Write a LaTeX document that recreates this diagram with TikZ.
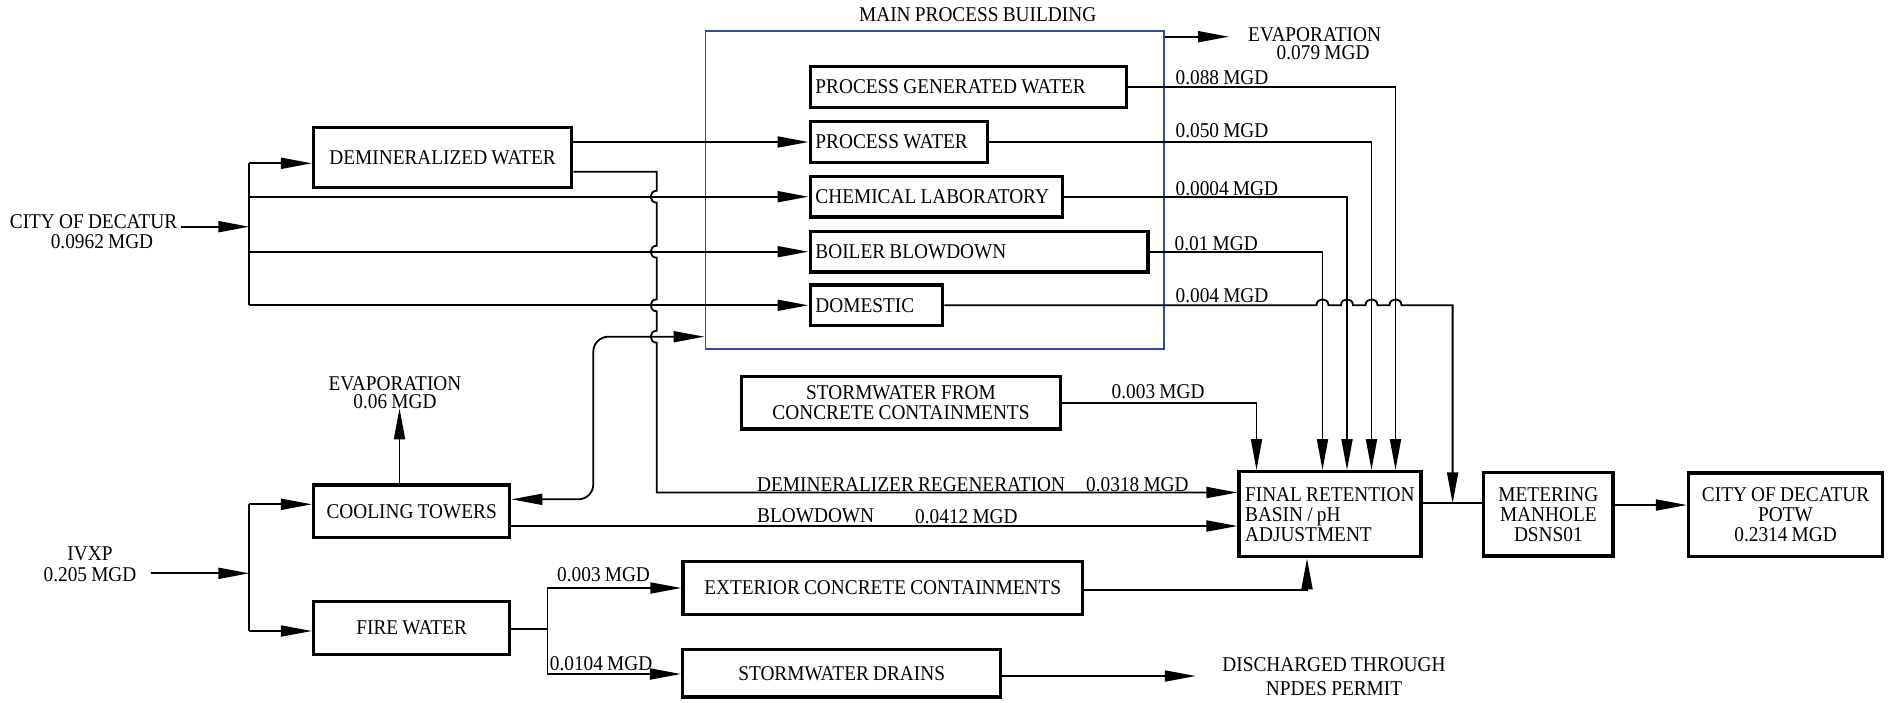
\documentclass[tikz,border=0pt]{standalone}
\usepackage{fontspec}
\setmainfont{Liberation Serif}[FakeStretch=0.92,WordSpace=0.87]
\usetikzlibrary{arrows.meta}
\definecolor{bldgblue}{RGB}{45,75,170}
\begin{document}
\begin{tikzpicture}[x=1pt,y=-1pt,
  every node/.style={font=\fontsize{21}{20}\selectfont, inner sep=0pt},
  box/.style={draw, line width=3.3pt, inner sep=0pt, align=center},
  pbox/.style={draw, line width=3.3pt, anchor=west, inner xsep=5.3pt, inner ysep=0pt, minimum height=40.6pt, align=flush left},
  conn/.style={line width=1.8pt},
  arr/.style={conn, -{Triangle[length=31pt,width=11pt]}},
  lbl/.style={anchor=west}]
\useasboundingbox (0,0) rectangle (1889,702);

% ---------- boxes ----------
\node[box, minimum width=258.1pt, minimum height=60.4pt] (demin) at (442.65,157.5) {DEMINERALIZED WATER};
\node[box, minimum width=196.1pt, minimum height=52.7pt] (cool) at (411.65,511.35) {COOLING TOWERS};
\node[box, minimum width=196.1pt, minimum height=52.6pt] (fire) at (411.65,628) {FIRE WATER};
\node[draw=bldgblue, line width=1.8pt, minimum width=458.9pt, minimum height=318.6pt] (bldg) at (934.85,190) {};
\node (title) at (977.7,15) {MAIN PROCESS BUILDING};
\node[pbox, text width=306pt] (pgw) at (808.5,87) {PROCESS GENERATED WATER};
\node[pbox, text width=166.6pt] (pw) at (808.5,142) {PROCESS WATER};
\node[pbox, text width=241.6pt] (cl) at (808.5,196.7) {CHEMICAL LABORATORY};
\node[pbox, text width=327.3pt] (bb) at (808.5,251.7) {BOILER BLOWDOWN};
\node[pbox, text width=121.9pt] (dom) at (808.5,305.3) {DOMESTIC};
\node[box, minimum width=318.9pt, minimum height=52.3pt] (sfcc) at (901,402.85) {STORMWATER FROM\\CONCRETE CONTAINMENTS};
\node[box, minimum height=85pt, text width=170pt, inner xsep=6pt, align=flush left] (frb) at (1330.1,514.2) {FINAL RETENTION\\BASIN / pH\\ADJUSTMENT};
\node[box, minimum width=129.3pt, minimum height=83.3pt] (met) at (1548.35,514.35) {METERING\\MANHOLE\\DSNS01};
\node[box, minimum width=193.9pt, minimum height=83.7pt] (potw) at (1785.55,514.85) {CITY OF DECATUR\\POTW\\0.2314 MGD};
\node[box, minimum width=399.5pt, minimum height=52.6pt] (ecc) at (882.75,588) {EXTERIOR CONCRETE CONTAINMENTS};
\node[box, minimum width=318.2pt, minimum height=47.7pt] (sd) at (841.7,673.2) {STORMWATER DRAINS};

% ---------- free text ----------
\node[align=center] (evaptop) at (1314.6,43.5) {EVAPORATION\\[-1.6pt]\hspace*{17pt}0.079 MGD};
\node[align=center] (city) at (93.5,231.7) {CITY OF DECATUR\\\hspace*{17pt}0.0962 MGD};
\node[align=center] (ivxp) at (90,563.8) {IVXP\\[1pt]0.205 MGD};
\node[align=center] (evapct) at (395,392.5) {EVAPORATION\\[-1.6pt]0.06 MGD};
\node[align=center] (disch) at (1334,676.6) {DISCHARGED THROUGH\\[3.3pt]NPDES PERMIT};

\node[lbl] (l1) at (1175.4,77.7) {0.088 MGD};
\node[lbl] (l2) at (1175.4,130.7) {0.050 MGD};
\node[lbl] (l3) at (1175.4,188.3) {0.0004 MGD};
\node[lbl] (l4) at (1174.5,243.3) {0.01 MGD};
\node[lbl] (l5) at (1175.4,295.7) {0.004 MGD};
\node[lbl] (l6) at (1111.5,391.7) {0.003 MGD};
\node[lbl] (l7) at (757,485) {DEMINERALIZER REGENERATION};
\node[lbl] (l8) at (1086,485) {0.0318 MGD};
\node[lbl] (l9) at (757,515.7) {BLOWDOWN};
\node[lbl] (l10) at (915,516.7) {0.0412 MGD};
\node[lbl] (l11) at (557,575) {0.003 MGD};
\node[lbl] (l12) at (549.7,664) {0.0104 MGD};

% ---------- connectors ----------
\coordinate (cityout) at (181.4,226.7);
\coordinate (busAtop) at (249.3,163.3);
\coordinate (busAbot) at (249.3,305.3);
\draw[arr] (cityout) -- (busAtop |- cityout);
\draw[conn] (busAtop) -- (busAbot);
\draw[arr] (busAtop) -- (demin.west |- busAtop);
\draw[arr] (busAtop |- cl.west) -- (cl.west);
\draw[arr] (busAtop |- bb.west) -- (bb.west);
\draw[arr] (busAbot) -- (dom.west);
\draw[arr] (demin.east |- pw.west) -- (pw.west);

% demineralizer regeneration with line jumps
\draw[arr] (demin.east |- 0,171.7) -- (656.7,171.7)
  -- (656.7,190.7) .. controls +(-8,0) and +(-8,0) .. (656.7,202.7)
  -- (656.7,245.7) .. controls +(-8,0) and +(-8,0) .. (656.7,257.7)
  -- (656.7,299.3) .. controls +(-8,0) and +(-8,0) .. (656.7,311.3)
  -- (656.7,330.7) .. controls +(-8,0) and +(-8,0) .. (656.7,342.7)
  -- (656.7,492.5) -- (frb.west |- 0,492.5);

% cooling water loop
\draw[conn, rounded corners=15pt, arrows={Triangle[length=31pt,width=11pt]-Triangle[length=31pt,width=11pt]}]
  (cool.east |- 0,499.3) -- (593.3,499.3) -- (593.3,336.7) -- (bldg.west |- 0,336.7);

% outputs of process boxes
\draw[arr] (pgw.east) -- (1395.5,87) -- (frb.north -| 1395.5,0);
\draw[arr] (pw.east) -- (1371.5,142) -- (frb.north -| 1371.5,0);
\draw[arr] (cl.east) -- (1347,196.7) -- (frb.north -| 1347,0);
\draw[arr] (bb.east) -- (1322.5,251.7) -- (frb.north -| 1322.5,0);
\coordinate (junc) at (1452.6,503.3);
\draw[arr] (dom.east) -- (1316.5,305.3) .. controls +(0,-8) and +(0,-8) .. (1328.5,305.3)
  -- (1341,305.3) .. controls +(0,-8) and +(0,-8) .. (1353,305.3)
  -- (1365.5,305.3) .. controls +(0,-8) and +(0,-8) .. (1377.5,305.3)
  -- (1389.5,305.3) .. controls +(0,-8) and +(0,-8) .. (1401.5,305.3)
  -- (junc |- 0,305.3) -- (junc);

\draw[conn] (frb.east |- junc) -- (met.west |- junc);
\draw[arr] (met.east |- 0,505) -- (potw.west |- 0,505);
\coordinate (evapout) at (1229,36.7);
\draw[arr] (bldg.east |- evapout) -- (evapout);
\draw[arr] (sfcc.east |- 0,403.3) -- (1256.5,403.3) -- (frb.north -| 1256.5,0);
\draw[arr] (cool.east |- 0,526) -- (frb.west |- 0,526);
\coordinate (evapctin) at (399.5,408.3);
\draw[arr] (cool.north -| evapctin) -- (evapctin);

% IVXP
\coordinate (ivxpout) at (150.6,573.3);
\coordinate (busBtop) at (249.3,504.3);
\coordinate (busBbot) at (249.3,631);
\draw[arr] (ivxpout) -- (busBtop |- ivxpout);
\draw[conn] (busBtop) -- (busBbot);
\draw[arr] (busBtop) -- (cool.west |- busBtop);
\draw[arr] (busBbot) -- (fire.west |- busBbot);

% fire water
\coordinate (fsplit) at (547.4,629.3);
\draw[conn] (fire.east |- fsplit) -- (fsplit);
\draw[conn] (547.4,588) -- (547.4,674);
\draw[arr] (547.4,588) -- (ecc.west);
\draw[arr] (547.4,674) -- (sd.west |- 0,674);
\draw[arr] (ecc.east |- 0,590) -- (1307,590) -- (frb.south -| 1307,0);
\coordinate (dischout) at (1195.8,676);
\draw[arr] (sd.east |- dischout) -- (dischout);
\end{tikzpicture}
\end{document}
